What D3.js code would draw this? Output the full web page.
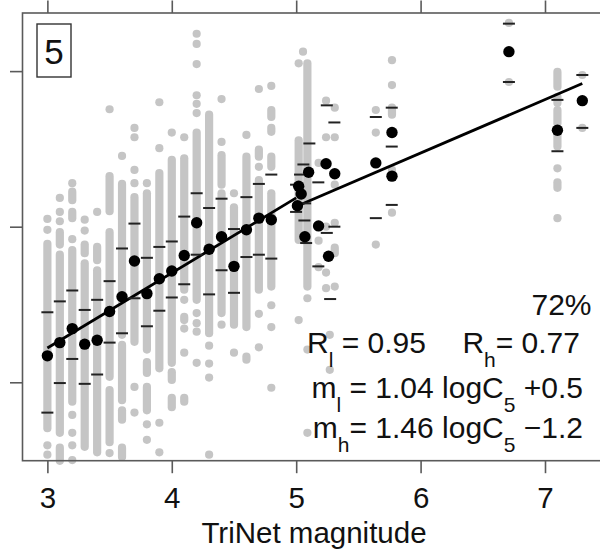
<!DOCTYPE html>
<html><head><meta charset="utf-8">
<script src="https://cdn.jsdelivr.net/npm/d3@7"></script>
<style>body{margin:0;background:#fff}svg{display:block}</style>
</head><body>
<script>
// ---- data (x: TriNet magnitude, y: log C5) ----
const xTicks = [3, 4, 5, 6, 7];
const yTicks = [2, 4, 6];
const panelLabel = "5";
const xTitle = "TriNet magnitude";

// gray observations: per magnitude column, runs of stacked points [top, bottom] or single [v]
const grayX = [3.0, 3.1, 3.2, 3.3, 3.4, 3.5, 3.6, 3.7, 3.8, 3.9, 4.0, 4.1, 4.2, 4.3, 4.4, 4.5, 4.6, 4.7, 4.8,
               5.02, 5.055, 5.09, 5.18, 5.24, 5.27, 5.31, 5.64, 5.77, 6.71, 7.10, 7.30];
const grayRuns = [
  [[4.10],[3.96],[3.78,1.41],[1.19],[1.07]],
  [[4.37],[4.19],[4.07],[3.93,3.77],[3.64,1.35],[1.16,0.99]],
  [[4.56],[4.45,4.34],[4.19,4.11],[3.84],[3.70,1.75],[1.58],[1.35],[1.19],[1.00]],
  [[4.09],[3.95],[3.77,3.66],[3.53,1.17]],
  [[4.19],[3.74,3.57],[3.44,1.10]],
  [[5.51],[4.65,4.20],[3.93,2.07],[1.90,1.23],[1.09]],
  [[4.91],[4.55,2.61],[2.48,1.77],[1.64,1.52],[1.16,1.04]],
  [[5.27],[5.15],[4.73],[4.56],[4.38,2.52],[1.94],[1.61]],
  [[4.56],[4.43,2.42],[2.26,2.12],[1.94,1.64],[1.46],[1.26]],
  [[5.60],[5.01],[4.69,2.18],[1.48],[1.10]],
  [[5.21],[4.86,2.25],[2.13,2.03],[1.80,1.68]],
  [[5.15],[4.88,3.19],[3.06],[2.84,2.80],[2.69],[2.38],[1.80,1.75]],
  [[6.48],[6.35],[6.09],[5.69],[5.58],[5.46],[5.21,3.06],[2.89],[2.76],[2.65],[2.25]],
  [[5.44,2.63],[2.47],[2.24],[2.06],[1.07]],
  [[5.64],[5.09],[4.92,4.54],[4.43,2.89],[2.74]],
  [[4.43],[4.25,2.74],[2.38]],
  [[5.18],[4.90,2.71],[2.33,2.29]],
  [[5.77],[4.99,4.90],[4.77],[4.60,3.19],[2.88],[2.45]],
  [[5.81],[5.50,5.41],[5.27,5.22],[4.90,4.77],[4.43,3.23],[2.99],[2.71],[1.93]],
  [[6.10],[5.11,3.83],[2.80]],
  [[6.25]],
  [[6.10,3.23],[3.08],[2.42],[1.35]],
  [[4.82],[3.82],[3.48]],
  [[5.62],[5.15],[4.00],[3.41],[3.21]],
  [[2.61],[2.16]],
  [[5.53],[5.15],[4.54],[4.05],[3.73,3.66],[3.23]],
  [[5.50],[5.21],[3.77]],
  [[6.14],[5.82],[5.53,5.44],[4.73],[4.18]],
  [[6.62],[5.86]],
  [[5.99,5.80],[5.67,5.59],[5.50,5.33],[5.21,5.03],[4.75],[4.57,4.50],[4.11]],
  [[5.95],[5.62],[5.27]]
];

// black: mean per magnitude
const meanX = [3.0, 3.1, 3.2, 3.3, 3.4, 3.5, 3.6, 3.7, 3.8, 3.9, 4.0, 4.1, 4.2, 4.3, 4.4, 4.5, 4.6, 4.7, 4.8,
               5.10, 5.02, 5.04, 5.01, 5.07, 5.24, 5.31, 5.18, 5.26, 5.64, 5.77, 5.77, 6.71, 7.10, 7.30];
const meanY = [2.34, 2.51, 2.69, 2.49, 2.54, 2.91, 3.10, 3.56, 3.14, 3.33, 3.43, 3.63, 4.05, 3.71, 3.87, 3.49, 3.96, 4.11, 4.09,
               4.70, 4.52, 4.42, 4.27, 3.87, 4.81, 4.68, 4.01, 3.62, 4.82, 4.65, 5.21, 6.25, 5.24, 5.62];

// mean +/- one standard deviation marks
const dashX = [3.0, 3.0, 3.1, 3.1, 3.2, 3.2, 3.3, 3.3, 3.4, 3.4, 3.5, 3.5, 3.6, 3.6, 3.7, 3.7, 3.8, 3.8, 3.9, 3.9,
               4.0, 4.0, 4.1, 4.1, 4.2, 4.2, 4.3, 4.3, 4.4, 4.4, 4.5, 4.5, 4.6, 4.6, 4.7, 4.7, 4.8, 4.8,
               5.106, 5.058, 5.031, 4.999, 4.999, 5.066, 5.080, 5.072, 5.178, 5.178, 5.246, 5.246, 5.307, 5.307, 5.273,
               5.64, 5.64, 5.768, 5.768, 5.768, 6.71, 6.71, 7.10, 7.10, 7.30, 7.30];
const dashY = [2.90, 1.61, 3.04, 1.99, 3.18, 2.30, 2.93, 1.98, 3.06, 2.10, 3.30, 2.51, 3.72, 2.63, 4.04, 3.08, 3.60, 2.72, 3.74, 2.92,
               3.81, 3.09, 4.13, 3.26, 4.43, 3.64, 4.24, 3.13, 4.36, 3.44, 3.97, 3.15, 4.38, 3.61, 4.55, 3.64, 4.67, 3.59,
               5.07, 4.80, 4.67, 4.54, 4.19, 4.08, 3.79, 4.30, 4.57, 3.49, 5.56, 3.92, 5.34, 4.00, 3.07,
               5.41, 4.11, 5.53, 5.03, 4.28, 6.61, 5.86, 5.63, 4.97, 5.95, 5.27];

// piecewise fits
const fitLowX = [3.0, 5.0],  fitLowY = [2.44, 4.37];
const fitHighX = [5.0, 7.3], fitHighY = [4.26, 5.84];

// ---- drawing ----
const W = 600, H = 551;
const FONT = "'Liberation Sans', Arial, Helvetica, sans-serif";
const svg = d3.select("body").append("svg").attr("width", W).attr("height", H)
  .style("font-family", FONT);

const x = d3.scaleLinear().domain([2.8, 7.5]).range([22.5, 607.2]);
const y = d3.scaleLinear().domain([0.992, 6.747]).range([460.7, 13]);
const frameCol = "#5a5a5a";

// points
const rG = 4.1;
const gG = svg.append("g").attr("fill", "#c5c5c5");
grayX.forEach((m, i) => {
  grayRuns[i].forEach(run => {
    const hi = d3.max(run), lo = d3.min(run);
    const top = y(hi), bot = y(lo);
    gG.append("rect")
      .attr("x", x(m) - rG).attr("y", top - rG)
      .attr("width", 2 * rG).attr("height", bot - top + 2 * rG)
      .attr("rx", rG).attr("ry", rG);
  });
});

// fit lines
const line = d3.line().x(d => x(d[0])).y(d => y(d[1]));
[[fitLowX, fitLowY], [fitHighX, fitHighY]].forEach(([fx, fy]) => {
  svg.append("path").datum(fx.map((v, i) => [v, fy[i]]))
    .attr("d", line).attr("fill", "none").attr("stroke", "#000").attr("stroke-width", 2.8);
});

// dashes
svg.append("g").selectAll("line").data(dashX.map((v, i) => [v, dashY[i]])).join("line")
  .attr("x1", d => x(d[0]) - 6).attr("x2", d => x(d[0]) + 6)
  .attr("y1", d => y(d[1])).attr("y2", d => y(d[1]))
  .attr("stroke", "#222").attr("stroke-width", 2);

// means
svg.append("g").selectAll("circle").data(meanX.map((v, i) => [v, meanY[i]])).join("circle")
  .attr("cx", d => x(d[0])).attr("cy", d => y(d[1])).attr("r", 5.7).attr("fill", "#000");

// frame
svg.append("rect").attr("x", 22.5).attr("y", 13).attr("width", 607.2 - 22.5).attr("height", 460.7 - 13)
  .attr("fill", "none").attr("stroke", frameCol).attr("stroke-width", 1.6);

// axes
const axB = svg.append("g").attr("transform", "translate(0,460.7)")
  .call(d3.axisBottom(x).tickValues(xTicks).tickSize(12.5).tickFormat(d3.format("d")));
axB.select(".domain").remove();
axB.selectAll("line").attr("stroke", frameCol).attr("stroke-width", 1.6);
axB.selectAll("text").attr("y", 47.5).attr("dy", null).attr("fill", "#111")
  .style("font-size", "29.5px").style("font-family", FONT);

const axT = svg.append("g").attr("transform", "translate(0,13)")
  .call(d3.axisTop(x).tickValues(xTicks).tickSize(12.5).tickFormat(""));
axT.select(".domain").remove();
axT.selectAll("line").attr("stroke", frameCol).attr("stroke-width", 1.6);

const axL = svg.append("g").attr("transform", "translate(22.5,0)")
  .call(d3.axisLeft(y).tickValues(yTicks).tickSize(12.5).tickFormat(""));
axL.select(".domain").remove();
axL.selectAll("line").attr("stroke", frameCol).attr("stroke-width", 1.6);

// x title
svg.append("text").attr("x", 314).attr("y", 543).attr("text-anchor", "middle")
  .style("font-size", "29.5px").attr("fill", "#111").text(xTitle);

// panel label
svg.append("rect").attr("x", 37).attr("y", 24).attr("width", 34).attr("height", 53)
  .attr("fill", "#fff").attr("stroke", "#333").attr("stroke-width", 1.4);
svg.append("text").attr("x", 54).attr("y", 63.5).attr("text-anchor", "middle")
  .style("font-size", "35px").attr("fill", "#111").text(panelLabel);

// annotations
const FS = 30, SUB = 21, SH = 14;
function rich(xp, yp, anchor, parts) {
  const t = svg.append("text").attr("x", xp).attr("y", yp).attr("text-anchor", anchor)
    .style("font-size", FS + "px").attr("fill", "#111").attr("xml:space", "preserve");
  let cur = 0;
  parts.forEach(([s, sub]) => {
    const dy = (sub ? SH : 0) - cur;
    t.append("tspan").attr("dy", dy).style("font-size", (sub ? SUB : FS) + "px").text(s);
    cur = sub ? SH : 0;
  });
  return t;
}
rich(591.5, 315, "end", [["72%", 0]]);
rich(307, 353, "start", [["R", 0], ["l", 1], [" = 0.95", 0]]);
rich(580, 353, "end", [["R", 0], ["h", 1], ["= 0.77", 0]]);
rich(583, 398, "end", [["m", 0], ["l", 1], [" = 1.04 logC", 0], ["5", 1], [" +0.5", 0]]);
rich(583, 438, "end", [["m", 0], ["h", 1], ["= 1.46 logC", 0], ["5", 1], [" \u22121.2", 0]]);
</script>
</body></html>
